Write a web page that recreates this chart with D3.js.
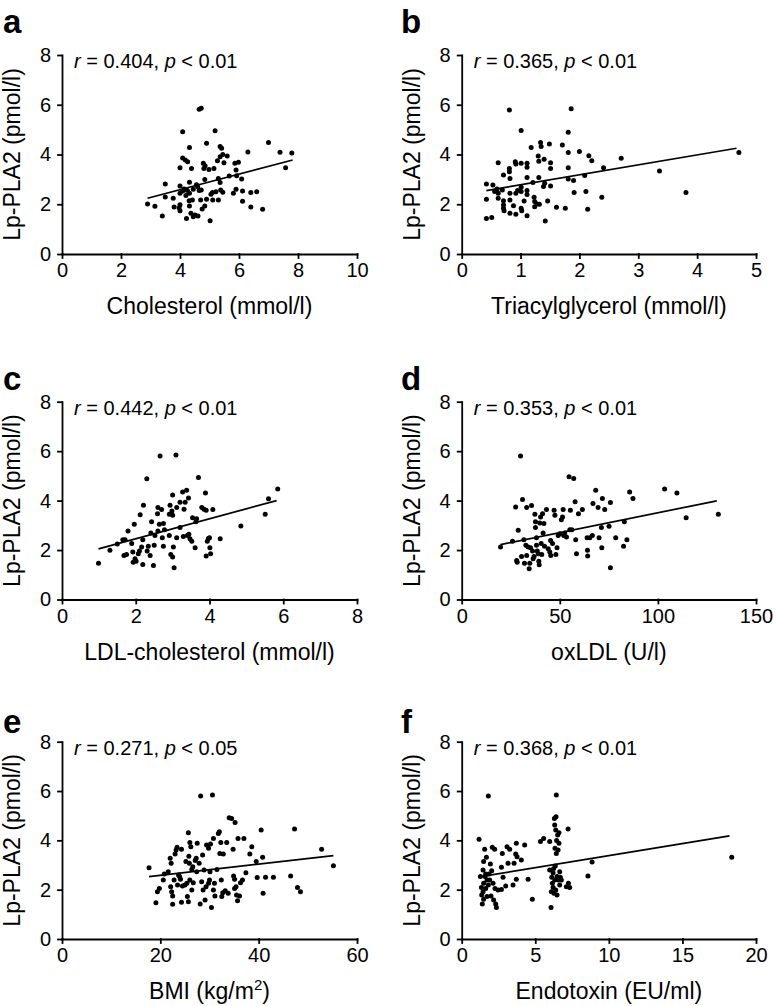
<!DOCTYPE html>
<html><head><meta charset="utf-8">
<script src="https://cdn.jsdelivr.net/npm/d3@7"></script>
<style>
body{margin:0;background:#fff}
svg{display:block}
text{font-family:"Liberation Sans",Arial,Helvetica,sans-serif;fill:#000}
</style>
</head><body>
<svg id="chart" width="776" height="1006"></svg>
<script>
// ---------- data ----------
const yTicks = [0, 2, 4, 6, 8];
const yLabel = "Lp-PLA2 (pmol/l)";
const panelLetters = ["a", "b", "c", "d", "e", "f"];
const xLabels = ["Cholesterol (mmol/l)", "Triacylglycerol (mmol/l)", "LDL-cholesterol (mmol/l)", "oxLDL (U/l)", "BMI (kg/m", "Endotoxin (EU/ml)"];
const rValues = ["0.404", "0.365", "0.442", "0.353", "0.271", "0.368"];
const pValues = ["0.01", "0.01", "0.01", "0.01", "0.05", "0.01"];
const xDomains = [[0, 10], [0, 5], [0, 8], [0, 150], [0, 60], [0, 20]];
const xTickSets = [[0, 2, 4, 6, 8, 10], [0, 1, 2, 3, 4, 5], [0, 2, 4, 6, 8], [0, 50, 100, 150], [0, 20, 40, 60], [0, 5, 10, 15, 20]];

const cholesterolData = [[2.90,2.01],[3.15,1.92],[3.40,1.53],[3.50,2.81],[3.50,2.29],[3.77,2.24],[3.80,1.89],[3.97,1.86],[4.00,3.47],[4.00,2.73],[4.00,2.44],[4.00,1.98],[4.00,1.74],[4.09,4.91],[4.09,3.86],[4.18,3.78],[4.14,2.61],[4.09,2.53],[4.20,2.35],[4.22,1.43],[4.26,3.71],[4.32,4.28],[4.32,2.88],[4.32,2.44],[4.31,2.14],[4.32,1.93],[4.37,1.64],[4.39,3.44],[4.42,2.17],[4.45,1.50],[4.51,1.57],[4.56,2.78],[4.61,1.53],[4.65,5.82],[4.72,5.86],[4.70,2.17],[4.72,2.57],[4.75,1.81],[4.79,3.65],[4.81,3.44],[4.84,3.00],[4.84,1.93],[4.90,4.45],[4.90,2.20],[4.98,3.40],[5.02,1.34],[5.10,2.47],[5.19,4.95],[5.15,3.44],[5.11,2.17],[5.22,2.50],[5.27,3.75],[5.30,3.04],[5.30,2.17],[5.36,4.32],[5.41,4.25],[5.36,3.91],[5.45,4.00],[5.36,2.87],[5.38,2.57],[5.45,2.48],[5.49,3.67],[5.60,3.94],[5.67,3.14],[5.81,2.44],[5.86,3.65],[5.98,3.69],[5.90,3.38],[5.92,3.15],[5.90,2.60],[6.09,3.02],[6.12,2.53],[6.12,2.12],[6.30,4.10],[6.40,2.47],[6.40,1.89],[6.60,2.50],[6.80,1.80],[7.00,4.48],[7.39,4.09],[7.58,3.47],[7.79,4.06],[4.65,2.55],[4.60,2.70],[4.85,3.55],[5.05,2.40],[4.45,2.60],[4.25,2.55]];

const triacylglycerolData = [[0.42,2.81],[0.42,2.20],[0.42,1.43],[0.51,1.47],[0.53,2.77],[0.56,2.51],[0.60,2.61],[0.62,3.67],[0.62,2.44],[0.62,2.24],[0.69,2.57],[0.71,3.18],[0.71,2.14],[0.71,1.97],[0.71,1.84],[0.72,1.74],[0.81,5.79],[0.81,3.44],[0.81,3.31],[0.82,3.04],[0.82,2.44],[0.82,2.17],[0.82,1.64],[0.88,1.94],[0.91,3.71],[0.92,3.62],[0.92,2.44],[0.92,1.60],[0.95,2.55],[1.01,4.96],[1.01,3.65],[1.01,2.68],[1.01,2.51],[1.01,1.84],[1.02,1.74],[1.06,2.13],[1.11,3.65],[1.11,3.49],[1.11,3.08],[1.11,2.55],[1.11,2.39],[1.11,1.54],[1.18,4.28],[1.21,2.87],[1.23,2.28],[1.24,2.11],[1.24,1.90],[1.28,2.01],[1.30,3.94],[1.31,3.73],[1.31,3.08],[1.32,2.00],[1.34,4.48],[1.35,4.32],[1.39,2.71],[1.40,3.81],[1.41,2.84],[1.42,1.33],[1.46,2.13],[1.49,4.42],[1.51,3.67],[1.51,3.44],[1.51,2.73],[1.61,1.88],[1.71,4.38],[1.76,1.84],[1.81,4.89],[1.81,4.08],[1.81,3.47],[1.81,3.02],[1.86,5.84],[1.90,2.95],[1.91,2.47],[2.00,4.12],[2.09,3.16],[2.11,2.51],[2.14,1.80],[2.16,3.95],[2.21,3.75],[2.38,2.28],[2.41,3.47],[2.71,3.85],[3.36,3.34],[3.81,2.47],[4.71,4.08]];

const ldlData = [[0.99,1.47],[1.30,1.99],[1.50,2.24],[1.65,2.42],[1.71,2.42],[1.68,1.78],[1.75,1.82],[1.79,2.77],[1.89,2.26],[1.92,1.92],[1.93,1.51],[1.96,3.04],[1.98,1.65],[2.01,1.55],[2.07,1.85],[2.10,1.96],[2.12,3.43],[2.16,2.12],[2.19,1.42],[2.21,3.81],[2.19,2.42],[2.30,4.88],[2.31,1.96],[2.34,2.15],[2.39,1.78],[2.41,2.69],[2.43,3.14],[2.48,1.38],[2.50,2.19],[2.52,2.59],[2.59,3.47],[2.60,3.72],[2.60,2.77],[2.64,3.04],[2.66,5.80],[2.70,3.64],[2.72,2.50],[2.75,2.15],[2.75,3.07],[2.78,2.82],[2.91,2.59],[2.91,3.45],[2.93,3.81],[2.95,1.82],[2.98,3.58],[3.00,3.41],[3.00,4.23],[3.00,1.72],[3.02,2.12],[3.04,1.28],[3.09,5.84],[3.11,2.50],[3.11,3.72],[3.20,2.91],[3.20,3.93],[3.27,4.35],[3.29,2.55],[3.31,3.65],[3.34,3.93],[3.38,4.42],[3.40,2.59],[3.43,4.11],[3.44,2.64],[3.47,2.46],[3.52,2.36],[3.54,3.31],[3.61,2.09],[3.63,3.14],[3.65,3.27],[3.70,4.93],[3.79,3.72],[3.85,3.65],[3.89,4.31],[3.91,3.61],[3.91,1.76],[3.94,2.36],[3.97,2.47],[4.00,2.50],[4.01,2.09],[4.03,1.85],[4.09,3.64],[4.29,2.46],[4.85,2.97],[5.51,3.45],[5.60,4.07],[5.85,4.47]];

const oxldlData = [[19.8,2.12],[25.9,2.36],[27.5,3.74],[28.0,1.58],[28.3,1.51],[28.8,2.80],[30.0,5.80],[30.5,1.74],[31.0,4.04],[31.7,2.42],[32.0,1.47],[32.7,2.19],[33.1,3.72],[33.1,1.78],[33.9,2.12],[34.4,1.24],[34.7,1.47],[35.1,2.09],[35.6,3.80],[36.1,1.96],[36.4,1.65],[36.9,1.74],[37.3,3.45],[37.6,3.14],[37.6,2.91],[38.1,2.19],[38.1,2.50],[38.5,1.96],[39.0,1.85],[39.3,1.55],[39.5,1.41],[39.8,3.09],[40.2,3.34],[40.5,2.26],[40.8,1.82],[41.2,3.47],[41.5,2.69],[41.9,3.07],[42.2,2.15],[43.2,3.64],[44.1,2.05],[44.9,1.92],[45.3,2.39],[45.4,1.78],[46.3,2.26],[47.1,3.61],[47.5,3.41],[48.0,1.82],[48.6,2.09],[49.2,2.59],[50.0,2.66],[50.8,3.23],[51.4,3.34],[51.7,3.64],[52.0,2.59],[52.5,2.69],[53.4,2.53],[54.7,4.96],[55.1,2.82],[55.4,3.61],[56.1,2.82],[57.1,4.89],[57.8,3.95],[58.1,2.42],[58.5,1.85],[59.5,3.47],[61.5,3.64],[63.9,2.50],[64.1,1.99],[64.2,1.76],[65.3,2.50],[66.6,2.59],[66.9,3.88],[68.3,4.42],[69.5,3.72],[70.0,2.50],[71.2,2.91],[71.4,2.09],[71.7,4.08],[72.9,3.64],[75.1,2.96],[75.8,3.92],[75.8,1.28],[78.5,2.50],[82.5,2.15],[82.9,3.14],[84.2,2.42],[85.6,4.35],[87.3,4.08],[103.4,4.47],[109.7,4.31],[114.4,3.31],[130.8,3.45]];

const bmiData = [[17.7,2.89],[19.1,1.47],[19.4,1.92],[19.8,2.05],[20.6,2.39],[20.8,2.64],[21.6,2.73],[22.0,3.27],[22.1,2.12],[22.2,3.07],[22.3,1.92],[22.5,1.74],[22.5,1.41],[22.8,2.39],[23.0,3.45],[23.2,3.61],[23.4,3.72],[23.5,2.19],[23.7,2.59],[23.9,2.53],[24.1,2.42],[24.3,3.64],[24.3,1.49],[24.5,2.15],[25.0,2.19],[25.2,3.14],[25.4,2.26],[25.5,1.72],[25.7,4.31],[25.7,1.51],[25.8,3.36],[25.9,3.07],[26.0,3.91],[26.0,2.39],[26.2,3.74],[26.4,2.82],[26.4,1.99],[26.6,2.93],[26.7,2.28],[27.1,3.18],[27.3,3.27],[27.4,2.73],[27.5,3.88],[27.9,3.07],[28.1,1.42],[28.2,5.80],[28.4,2.32],[28.6,3.41],[28.7,1.99],[28.9,2.80],[29.1,1.58],[29.3,2.12],[29.4,3.81],[29.8,3.68],[29.8,2.26],[30.0,2.39],[30.1,2.73],[30.2,3.85],[30.4,1.28],[30.6,5.84],[30.8,4.08],[30.8,1.99],[31.0,2.26],[31.1,1.74],[31.5,2.82],[31.8,4.28],[32.0,4.35],[32.1,3.47],[32.3,3.91],[32.4,2.39],[32.5,1.72],[32.7,1.88],[32.8,3.45],[33.2,1.96],[33.5,3.91],[33.8,1.85],[34.0,4.92],[34.5,4.89],[34.8,3.64],[34.9,2.55],[35.1,2.05],[35.1,2.42],[35.2,4.72],[35.4,2.12],[35.5,1.78],[35.7,1.55],[35.8,4.08],[36.1,1.74],[36.3,2.28],[36.7,2.39],[37.0,4.08],[37.4,2.69],[38.2,3.45],[38.6,3.74],[39.5,3.14],[39.7,2.49],[40.5,4.42],[40.8,3.31],[40.9,1.85],[41.4,2.50],[43.0,2.50],[46.5,2.55],[47.3,4.46],[47.9,2.09],[48.5,1.92],[52.8,3.64],[55.2,2.97]];

const endotoxinData = [[1.18,4.04],[1.27,2.53],[1.34,2.09],[1.36,1.78],[1.40,1.42],[1.45,2.80],[1.45,1.92],[1.49,3.14],[1.49,2.26],[1.49,1.61],[1.56,3.64],[1.59,2.53],[1.63,2.64],[1.63,2.05],[1.68,3.31],[1.72,2.39],[1.72,1.72],[1.81,5.80],[1.81,2.19],[1.86,2.64],[1.90,2.39],[1.95,3.04],[1.99,1.74],[2.04,2.77],[2.08,3.72],[2.13,2.26],[2.17,1.58],[2.24,3.64],[2.26,2.05],[2.31,1.42],[2.36,1.28],[2.47,1.99],[2.70,2.01],[2.70,2.91],[2.76,3.47],[2.81,2.50],[2.99,2.15],[3.08,3.74],[3.15,3.07],[3.26,3.64],[3.49,2.19],[3.56,3.07],[3.67,3.45],[3.71,3.88],[3.71,2.42],[3.76,3.34],[4.05,3.20],[4.28,3.81],[4.51,2.42],[4.80,1.61],[5.35,3.95],[5.57,4.08],[5.98,3.95],[5.98,2.80],[6.07,1.28],[6.09,1.92],[6.12,2.50],[6.16,2.26],[6.21,2.69],[6.21,2.09],[6.25,2.86],[6.27,1.85],[6.30,4.89],[6.32,4.62],[6.32,2.39],[6.34,3.68],[6.36,2.96],[6.39,4.42],[6.39,1.99],[6.41,4.96],[6.43,5.84],[6.43,3.47],[6.45,3.99],[6.48,2.53],[6.48,1.78],[6.52,4.22],[6.55,3.61],[6.57,2.39],[6.61,4.31],[6.61,3.88],[6.66,2.73],[6.66,2.19],[6.70,2.50],[6.77,2.39],[7.11,2.12],[7.23,4.46],[7.25,2.26],[7.34,2.09],[8.58,2.55],[8.86,3.12],[18.35,3.31]];

// fitted regression line end points, as drawn
const fitCholesterol = [[2.9, 2.24], [7.82, 3.78]];
const fitTriacylglycerol = [[0.42, 2.55], [4.67, 4.25]];
const fitLdl = [[0.99, 2.05], [5.82, 4.0]];
const fitOxldl = [[19.8, 2.22], [130, 3.99]];
const fitBmi = [[17.7, 2.53], [55.2, 3.38]];
const fitEndotoxin = [[1.27, 2.53], [18.2, 4.18]];

const panelData = [cholesterolData, triacylglycerolData, ldlData, oxldlData, bmiData, endotoxinData];
const panelFits = [fitCholesterol, fitTriacylglycerol, fitLdl, fitOxldl, fitBmi, fitEndotoxin];

// ---------- layout ----------
const colX = [[62, 357], [461.7, 756]];
const rowY = [[55, 254], [401.7, 599.5], [741.7, 939]];
const letterBaseline = [33, 390, 733];
const letterX = [3, 401];

const svg = d3.select("#chart");

panelLetters.forEach((letter, i) => {
  const col = i % 2, row = Math.floor(i / 2);
  const [x0, x1] = colX[col];
  const [yT, yB] = rowY[row];
  const xs = d3.scaleLinear().domain(xDomains[i]).range([x0, x1]);
  const ys = d3.scaleLinear().domain([0, 8]).range([yB, yT]);
  const g = svg.append("g");

  // panel letter
  g.append("text").attr("x", letterX[col]).attr("y", letterBaseline[row])
    .style("font-size", "33px").style("font-weight", "bold").text(letter);

  // axes
  const xa = g.append("g").attr("transform", `translate(0,${yB})`)
    .call(d3.axisBottom(xs).tickValues(xTickSets[i]).tickSizeInner(4).tickSizeOuter(0).tickPadding(5).tickFormat(d3.format("d")));
  const ya = g.append("g").attr("transform", `translate(${x0},0)`)
    .call(d3.axisLeft(ys).tickValues(yTicks).tickSizeInner(4).tickSizeOuter(0).tickPadding(7).tickFormat(d3.format("d")));
  [xa, ya].forEach(a => {
    a.attr("font-size", null).attr("font-family", null);
    a.selectAll("text").style("font-size", "20px");
    a.selectAll("path,line").attr("stroke", "#000").attr("stroke-width", 1.8).attr("stroke-linecap", "square");
  });

  // axis titles
  g.append("text")
    .attr("transform", `translate(${x0 - 42},${(yT + yB) / 2}) rotate(-90)`)
    .attr("text-anchor", "middle").style("font-size", "23px").text(yLabel);
  const xt = g.append("text").attr("x", (x0 + x1) / 2).attr("y", yB + 60)
    .attr("text-anchor", "middle").style("font-size", "23px").text(xLabels[i]);
  if (i === 4) {
    xt.append("tspan").attr("dy", -9).style("font-size", "15px").text("2");
    xt.append("tspan").attr("dy", 9).text(")");
  }

  // annotation
  const an = g.append("text").attr("x", x0 + 12).attr("y", yT + 13).style("font-size", "20px");
  an.append("tspan").style("font-style", "italic").text("r");
  an.append("tspan").text(` = ${rValues[i]}, `);
  an.append("tspan").style("font-style", "italic").text("p");
  an.append("tspan").text(` < ${pValues[i]}`);

  // points
  g.append("g").selectAll("circle").data(panelData[i]).join("circle")
    .attr("cx", d => xs(d[0])).attr("cy", d => ys(d[1])).attr("r", 2.5).attr("fill", "#000");

  // regression line
  g.append("path").datum(panelFits[i])
    .attr("d", d3.line().x(d => xs(d[0])).y(d => ys(d[1])))
    .attr("fill", "none").attr("stroke", "#000").attr("stroke-width", 1.7);
});
</script>
</body></html>
